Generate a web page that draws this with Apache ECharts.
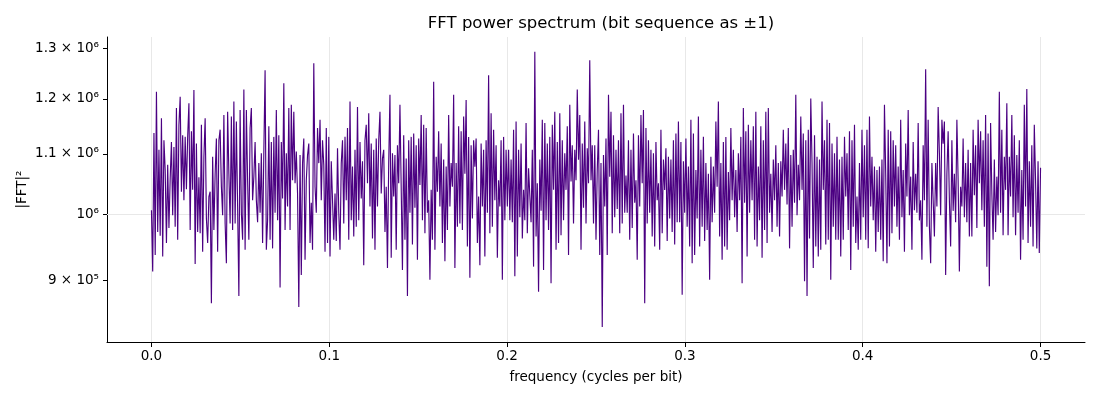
<!DOCTYPE html>
<html>
<head>
<meta charset="utf-8">
<script src="https://cdn.jsdelivr.net/npm/echarts@6/dist/echarts.min.js"></script>
<style>
  html, body { margin: 0; padding: 0; background: #fff; }
  #chart { width: 1100px; height: 400px; }
</style>
</head>
<body>
<div id="chart"></div>
<script>
// |FFT|^2, in thousands, one array per frequency band
var power0 = [1006, 913, 1137, 937, 1214, 972, 1107, 966, 1164, 935,
  1124, 1072, 955, 1081, 978, 1058, 1121, 998, 1112, 980,
  1183, 960, 1152, 1204, 1036, 1133, 1022, 1130, 1040, 1130,
  1192, 975, 1140, 1039, 1217, 924, 1118, 972, 1060, 970,
  1152, 942, 1095, 1164, 993, 955, 1028, 1036, 868, 1095,
  975, 1066, 1127, 942, 1124, 1143, 1044, 998, 1170, 985,
  925, 1176, 1066, 985, 1167, 975, 1195, 985, 1158, 1012,
  878, 1179, 1002, 960, 1218, 945, 1179, 1055, 960, 1146,
  1183, 1022, 1061, 1121, 1022, 987, 1084, 1002, 1101, 955,
  1104, 1256, 945, 990, 1149, 960];
var power1 = [1121, 947, 1130, 1002, 1179, 990, 1133, 890,
  1121, 1025, 1230, 975, 1101, 1012, 1183, 975, 1189,
  1055, 1176, 1050, 1104, 1033, 863, 1098, 908, 1084,
  1127, 930, 1055, 1098, 1118, 955, 1018, 945, 1270, 1044,
  1002, 1146, 1084, 1161, 1022, 1124, 1081, 942, 1146, 955,
  1130, 935, 1087, 1022, 960, 1033, 958, 1110, 1002, 945,
  1084, 1124, 985, 1130, 1022, 1146, 960, 1195, 990, 1078,
  965, 1107, 980, 1185, 990, 1121, 1025, 1087, 922, 1124,
  1152, 1050, 1173, 1012, 1118, 962, 1107, 945, 1127, 1012,
  1124, 1176, 1033, 1092, 1107, 972, 1044, 918, 1084, 1208,
  933, 1101, 1028, 1098, 945, 1115, 1050, 1189];
var power2 = [1189, 915, 1133, 960, 1092, 878, 1124, 1002,
  1130, 953, 1136, 1010, 1115, 930, 1127, 1047,
  1170, 990, 1152, 970, 1146, 1002, 1022, 901,
  1039, 960, 1233, 945, 1095, 1036, 1140, 1012, 1118,
  955, 1090, 928, 1078, 975, 1170, 1012, 1084, 1044,
  1208, 918, 1084, 980, 1149, 985, 1140, 975, 1167, 1066,
  1198, 950, 1130, 904, 1115, 993, 1124, 1078, 1127, 955,
  1028, 922, 1118, 1012, 1107, 935, 1124, 1002, 1246, 970,
  1173, 980, 1143, 1022, 1115, 933, 1055, 1012, 1124, 901,
  1130, 990, 1107, 1012, 1107, 990, 1090, 987, 1143, 906,
  1158, 935, 1107, 995, 1118, 962, 1039, 990, 1155, 970,
  1075];
var power3 = [1078, 987, 1107, 920, 1293, 965, 1050, 884, 1090, 1005,
  1161, 915, 1155, 990, 1118, 975, 1130, 896, 1152, 1039,
  1176, 945, 1121, 955, 1173, 967, 1124, 990, 1101, 1039,
  1149, 937, 1189, 1053, 1115, 985, 1107, 1055, 1218, 1090,
  1170, 945, 1118, 1010, 1158, 985, 1110, 1050, 1276, 1055,
  1115, 985, 1115, 960, 1072, 1143, 937, 1084, 836, 1098,
  1012, 1127, 937, 1208, 1061, 1176, 970, 1133, 995, 1107,
  1008, 1124, 970, 1173, 985, 1189, 1002, 1063, 1002, 1124,
  960, 1107, 978, 1136, 1018, 1055, 930, 1133, 1012, 1170,
  1050, 1179, 868, 1146, 985, 1124, 1002, 1107, 965, 1101,
  950];
var power4 = [1121, 1022, 1050, 945, 1143, 970, 1090, 1039, 1110, 958,
  1095, 993, 1090, 972, 1124, 953, 1136, 987,
  1158, 987, 1121, 880, 1087, 1002, 1127, 980, 1078, 950,
  1161, 925, 1136, 937, 1072, 993, 1167, 950, 1107, 980,
  1130, 958, 1084, 975, 1066, 901, 1095, 987, 1078, 1002,
  1158, 1044, 1195, 965, 1084, 930, 1121, 950, 1130, 945,
  1069, 990, 1146, 1022, 1107, 995, 1072, 972, 1101, 1022,
  1130, 896, 1183, 1018, 1140, 935, 1152, 1002, 1124, 1022,
  1149, 960, 1176, 950, 1078, 990, 1149, 933, 1124, 975,
  1176, 955, 1183, 1002, 1066, 972, 1090, 1022, 1115, 980,
  1084, 965, 1087, 1028];
var power5 = [1143, 1039, 1118, 1015, 1146, 947, 1098, 980, 1107, 1018,
  1208, 998, 1081, 1022, 1167, 1039, 1136, 899, 1124, 878,
  1143, 962, 1201, 1084, 918, 1133, 950, 1095, 935, 1090,
  945, 1195, 1039, 1124, 953, 1161, 960, 1155, 901, 1118,
  980, 1101, 960, 1130, 960, 1090, 935, 1095, 960, 1130,
  1028, 1101, 975, 1140, 915, 1124, 980, 1152, 955, 1028,
  945, 1084, 960, 1143, 995, 1115, 960, 1143, 947, 1167,
  1012, 1095, 990, 1078, 942, 1072, 972, 1078, 960, 1090,
  928, 1189, 1066, 925, 1143, 950, 1140, 970, 1124, 1012,
  1115, 980, 1078, 960, 1161, 995, 1072, 942, 1118, 1028,
  1179, 998];
var power6 = [1061, 945, 1121, 1006, 1066, 1002, 1155, 990, 1022, 930,
  1115, 1022, 1258, 980, 1161, 980, 925, 1084, 1022, 965,
  1084, 1012, 1185, 1101, 998, 1161, 1118, 1158, 908, 1066,
  1140, 1022, 950, 1124, 1005, 1066, 987, 1161, 1055, 913,
  1044, 1012, 1127, 995, 1084, 987, 1107, 965, 1084, 965,
  1143, 1030, 1115, 978, 1161, 1050, 1140, 1006, 1124, 980,
  1170, 920, 1136, 892, 1155, 1033, 960, 1090, 972, 1061,
  998, 1214, 1002, 1143, 967, 1095, 1039, 1192, 967, 1095,
  1028, 1170, 995, 1133, 967, 1098, 1002, 1124, 930, 1072,
  960, 1189, 1012, 1219, 955, 1087, 980, 1115, 950, 1152,
  1055, 947, 1087, 940, 1076];

var xTicks = [0, 0.1, 0.2, 0.3, 0.4, 0.5];
var yTicks = [900000, 1000000, 1100000, 1200000, 1300000];
var yTickLabels = ['9 × 10⁵', '10⁶', '1.1 × 10⁶', '1.2 × 10⁶', '1.3 × 10⁶'];

var power = [].concat(power0, power1, power2, power3, power4, power5, power6);
var fMax = 0.5;
// evenly spaced frequency bins from 0 to 0.5 cycles per bit, log10 of power on y
var seriesData = power.map(function (p, i) {
    return [i * fMax / (power.length - 1), Math.log10(p * 1000)];
});
var yTickLogs = yTicks.map(function (v) { return Math.log10(v); });

var font = 'DejaVu Sans';
var chart = echarts.init(document.getElementById('chart'));

chart.setOption({
    animation: false,
    backgroundColor: '#fff',
    textStyle: { fontFamily: font },
    title: {
        text: 'FFT power spectrum (bit sequence as ±1)',
        left: 596,
        top: 10,
        textAlign: 'center',
        textStyle: { fontFamily: font, fontSize: 16.5, fontWeight: 'normal', color: '#000' }
    },
    grid: { left: 107, right: 15, top: 37, bottom: 58 },
    xAxis: {
        type: 'value',
        min: -0.025,
        max: 0.525,
        name: 'frequency (cycles per bit)',
        nameLocation: 'middle',
        nameGap: 28,
        nameMoveOverlap: false,
        nameTextStyle: { fontFamily: font, fontSize: 13.5, color: '#000' },
        axisLine: { show: true, onZero: false, lineStyle: { color: '#000', width: 1 } },
        axisTick: { show: true, length: 5, customValues: xTicks, lineStyle: { color: '#000' } },
        axisLabel: {
            customValues: xTicks,
            margin: 7,
            fontFamily: font, fontSize: 13.5, color: '#000',
            formatter: function (v) { return v.toFixed(1); }
        },
        splitLine: { show: true, lineStyle: { color: '#e8e8e8', width: 1 } }
    },
    yAxis: {
        type: 'value',
        min: 5.91191,
        max: 6.12182,
        name: '|FFT|²',
        nameLocation: 'middle',
        nameGap: 78,
        nameMoveOverlap: false,
        nameTextStyle: { fontFamily: font, fontSize: 13.5, color: '#000' },
        axisLine: { show: true, onZero: false, lineStyle: { color: '#000', width: 1 } },
        axisTick: { show: true, length: 4, customValues: yTickLogs, lineStyle: { color: '#000' } },
        axisLabel: {
            customValues: yTickLogs,
            margin: 8,
            fontFamily: font, fontSize: 13.5, color: '#000',
            formatter: function (v) {
                var best = 0;
                for (var k = 1; k < yTickLogs.length; k++) {
                    if (Math.abs(yTickLogs[k] - v) < Math.abs(yTickLogs[best] - v)) best = k;
                }
                return yTickLabels[best];
            }
        },
        splitLine: { show: false }
    },
    series: [{
        type: 'line',
        data: seriesData,
        showSymbol: false,
        symbol: 'none',
        z: 2,
        lineStyle: { color: '#4b0082', width: 1.15 },
        markLine: {
            silent: true,
            z: 1,
            symbol: 'none',
            label: { show: false },
            lineStyle: { color: '#e8e8e8', width: 1, type: 'solid' },
            data: [{ yAxis: 6 }]
        }
    }]
});
</script>
</body>
</html>
